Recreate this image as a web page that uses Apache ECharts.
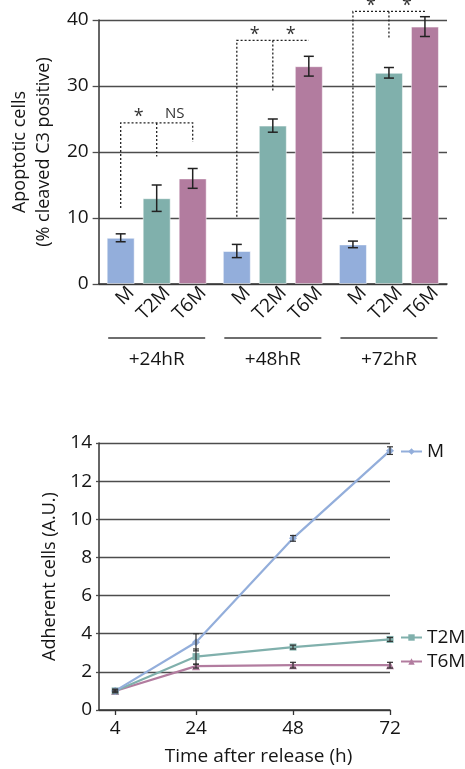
<!DOCTYPE html>
<html>
<head>
<meta charset="utf-8">
<script src="https://cdn.jsdelivr.net/npm/echarts@6/dist/echarts.min.js"></script>
<style>
html,body{margin:0;padding:0;background:#fff;}
#chart{width:465px;height:769px;}
</style>
</head>
<body>
<div id="chart"></div>
<script>
// ---------- data: apoptosis bar chart ----------
const groups = ['+24hR', '+48hR', '+72hR'];
const barNames = ['M', 'T2M', 'T6M'];
const apoptoticM = [7, 5, 6];
const apoptoticT2M = [13, 24, 32];
const apoptoticT6M = [16, 33, 39];
const apoptoticErrM = [0.6, 1.0, 0.5];
const apoptoticErrT2M = [2.0, 1.0, 0.8];
const apoptoticErrT6M = [1.5, 1.5, 1.5];
const apoptoticTicks = [0, 10, 20, 30, 40];
// significance brackets (one per group)
const bracketTop = [24.4, 36.9, 41.3];
const bracketLeftFoot = [11.5, 10.2, 10.7];
const bracketMidFoot = [19.3, 29.0, 37.3];
const bracketRightFoot = [21.5, null, null];
const bracketLabelLeft = ['*', '*', '*'];
const bracketLabelRight = ['NS', '*', '*'];

// ---------- data: adherent cells line chart ----------
const timePoints = [4, 24, 48, 72];
const adherentM = [1.0, 3.55, 9.0, 13.6];
const adherentT2M = [1.0, 2.8, 3.3, 3.7];
const adherentT6M = [1.0, 2.3, 2.35, 2.35];
const adherentErrM = [0.1, 0.45, 0.15, 0.2];
const adherentErrT2M = [0.05, 0.4, 0.1, 0.1];
const adherentErrT6M = [0.05, 0.1, 0.15, 0.15];
const adherentTicks = [0, 2, 4, 6, 8, 10, 12, 14];

// ---------- style ----------
const FONT = '"Open Sans", "Noto Sans", sans-serif';
const COL = ['#93AEDB', '#80B0AC', '#B27C9F'];
const BAR_W = 28;
const BAR_GAP = 0.2857;
const BAR_STEP = BAR_W * (1 + BAR_GAP);
const TXT = '#151515';
const GRIDC = '#4d4d4d';

const chart = echarts.init(document.getElementById('chart'), null, {renderer: 'canvas'});

const barVals = [apoptoticM, apoptoticT2M, apoptoticT6M];
const barErrs = [apoptoticErrM, apoptoticErrT2M, apoptoticErrT6M];

const barSeries = barNames.map((n, k) => ({
  type: 'bar',
  name: 'bar-' + n,
  xAxisIndex: 0, yAxisIndex: 0,
  data: barVals[k],
  barWidth: BAR_W,
  barGap: (BAR_GAP * 100) + '%',
  itemStyle: {color: COL[k], borderColor: 'rgba(255,255,255,0.5)', borderWidth: 1},
  label: {
    show: true, position: 'bottom', distance: 8, rotate: 45,
    align: 'right', verticalAlign: 'middle', offset: [9, 6],
    formatter: () => barNames[k], fontSize: 19, color: TXT, fontFamily: FONT
  }
}));

const barErrData = [];
barVals.forEach((arr, k) => arr.forEach((v, i) => barErrData.push([i, v, barErrs[k][i], k])));

const errTop = {
  type: 'custom', xAxisIndex: 0, yAxisIndex: 0, clip: false, z: 5,
  data: barErrData,
  renderItem(params, api) {
    const g = api.value(0), v = api.value(1), e = api.value(2), k = api.value(3);
    const cx = api.coord([g, 0])[0] + (k - 1) * BAR_STEP;
    const yHi = api.coord([g, v + e])[1], yLo = api.coord([g, v - e])[1];
    const c = 5;
    const st = {stroke: '#222', lineWidth: 1.5};
    return {type: 'group', children: [
      {type: 'line', shape: {x1: cx, y1: yHi, x2: cx, y2: yLo}, style: st},
      {type: 'line', shape: {x1: cx - c, y1: yHi, x2: cx + c, y2: yHi}, style: st},
      {type: 'line', shape: {x1: cx - c, y1: yLo, x2: cx + c, y2: yLo}, style: st}
    ]};
  }
};

const brackets = {
  type: 'custom', xAxisIndex: 0, yAxisIndex: 0, clip: false, z: 6,
  data: groups.map((g, i) => [i, bracketTop[i]]),
  renderItem(params, api) {
    const i = params.dataIndex;
    const g = api.value(0);
    const cx = api.coord([g, 0])[0];
    const xL = cx - BAR_STEP, xM = cx, xR = cx + BAR_STEP;
    const y = v => api.coord([g, v])[1];
    const yT = y(bracketTop[i]);
    const st = {stroke: '#222', lineWidth: 1.3, lineDash: [2, 2], fill: null};
    const pts = [[xL, y(bracketLeftFoot[i])], [xL, yT], [xR, yT]];
    if (bracketRightFoot[i] != null) pts.push([xR, y(bracketRightFoot[i])]);
    const ts = (t, x) => ({type: 'text', style: {
      text: t, x: x, y: yT - (t === '*' ? -3 : 2), align: 'center', verticalAlign: 'bottom',
      fontSize: t === '*' ? 18 : 15, fontFamily: FONT, fill: '#333'}});
    return {type: 'group', children: [
      {type: 'polyline', shape: {points: pts}, style: st},
      {type: 'line', shape: {x1: xM, y1: yT, x2: xM, y2: y(bracketMidFoot[i])}, style: st},
      ts(bracketLabelLeft[i], (xL + xM) / 2),
      ts(bracketLabelRight[i], (xM + xR) / 2)
    ]};
  }
};

const lineVals = [adherentM, adherentT2M, adherentT6M];
const lineErrs = [adherentErrM, adherentErrT2M, adherentErrT6M];
const symbols = ['diamond', 'rect', 'triangle'];
const symSizes = [8, 7, 8];

const lineSeries = barNames.map((n, k) => ({
  type: 'line', name: n, xAxisIndex: 1, yAxisIndex: 1,
  data: timePoints.map((t, i) => [t, lineVals[k][i]]),
  symbol: symbols[k], symbolSize: symSizes[k], showSymbol: true,
  lineStyle: {color: COL[k], width: 2.2},
  itemStyle: {color: COL[k]},
  z: 3 - k + 2
}));

const lineErrData = [];
lineVals.forEach((arr, k) => arr.forEach((v, i) => lineErrData.push([timePoints[i], v, lineErrs[k][i]])));

const errBottom = {
  type: 'custom', xAxisIndex: 1, yAxisIndex: 1, clip: false, z: 6,
  data: lineErrData,
  renderItem(params, api) {
    const t = api.value(0), v = api.value(1), e = api.value(2);
    const cx = api.coord([t, v])[0];
    const yHi = api.coord([t, v + e])[1], yLo = api.coord([t, v - e])[1];
    const c = 3;
    const st = {stroke: '#333', lineWidth: 1.2};
    return {type: 'group', children: [
      {type: 'line', shape: {x1: cx, y1: yHi, x2: cx, y2: yLo}, style: st},
      {type: 'line', shape: {x1: cx - c, y1: yHi, x2: cx + c, y2: yHi}, style: st},
      {type: 'line', shape: {x1: cx - c, y1: yLo, x2: cx + c, y2: yLo}, style: st}
    ]};
  }
};

const legendBase = {
  orient: 'horizontal', itemWidth: 21, itemHeight: 8, padding: 0, selectedMode: false,
  textStyle: {fontSize: 19, color: TXT, fontFamily: FONT}
};

const option = {
  animation: false,
  backgroundColor: '#fff',
  textStyle: {fontFamily: FONT},
  grid: [
    {left: 97, right: 18, top: 20, height: 264},
    {left: 99, width: 291, top: 443, height: 267}
  ],
  legend: [
    Object.assign({}, legendBase, {data: ['M'], left: 400, top: 442}),
    Object.assign({}, legendBase, {data: ['T2M'], left: 400, top: 628}),
    Object.assign({}, legendBase, {data: ['T6M'], left: 400, top: 652})
  ],
  xAxis: [
    {
      gridIndex: 0, type: 'category', data: groups,
      axisLine: {lineStyle: {color: '#333', width: 1.5}},
      axisTick: {show: false},
      axisLabel: {
        interval: 0, margin: 53, color: TXT, fontFamily: FONT,
        formatter: v => '{line|}\n{name|' + v + '}',
        rich: {
          line: {width: 97, height: 2, lineHeight: 2, backgroundColor: '#6e6e6e'},
          name: {fontSize: 19, lineHeight: 42, color: TXT, fontFamily: FONT}
        }
      }
    },
    {
      gridIndex: 1, type: 'value', min: 0, max: 72,
      splitLine: {show: false},
      axisLine: {lineStyle: {color: '#333', width: 1.5}},
      axisTick: {show: true, customValues: timePoints, length: 5, lineStyle: {color: '#333', width: 1.3}},
      axisLabel: {customValues: timePoints, fontSize: 19, color: TXT, margin: 9, fontFamily: FONT},
      name: 'Time after release (h)', nameLocation: 'middle', nameGap: 37,
      nameTextStyle: {fontSize: 19, color: TXT, padding: [0, 0, 0, 28], fontFamily: FONT}
    }
  ],
  yAxis: [
    {
      gridIndex: 0, type: 'value', min: apoptoticTicks[0], max: apoptoticTicks[apoptoticTicks.length - 1],
      interval: apoptoticTicks[1] - apoptoticTicks[0],
      axisLine: {show: true, lineStyle: {color: '#333', width: 1.5}},
      axisTick: {show: true, length: 6, lineStyle: {color: GRIDC, width: 1.3}},
      splitLine: {lineStyle: {color: GRIDC, width: 1.3}},
      axisLabel: {fontSize: 19, color: TXT, margin: 10, fontFamily: FONT},
      name: 'Apoptotic cells\n(% cleaved C3 positive)', nameLocation: 'middle', nameGap: 38,
      nameTextStyle: {fontSize: 18, lineHeight: 24, color: TXT, fontFamily: FONT}
    },
    {
      gridIndex: 1, type: 'value', min: adherentTicks[0], max: adherentTicks[adherentTicks.length - 1],
      interval: adherentTicks[1] - adherentTicks[0],
      axisLine: {show: true, lineStyle: {color: '#333', width: 1.5}},
      axisTick: {show: true, length: 3, lineStyle: {color: GRIDC, width: 1.3}},
      splitLine: {lineStyle: {color: GRIDC, width: 1.3}},
      axisLabel: {fontSize: 19, color: TXT, margin: 7, fontFamily: FONT},
      name: 'Adherent cells (A.U.)', nameLocation: 'middle', nameGap: 36,
      nameTextStyle: {fontSize: 18, color: TXT, fontFamily: FONT}
    }
  ],
  series: [...barSeries, errTop, brackets, ...lineSeries, errBottom]
};

chart.setOption(option);
</script>
</body>
</html>
